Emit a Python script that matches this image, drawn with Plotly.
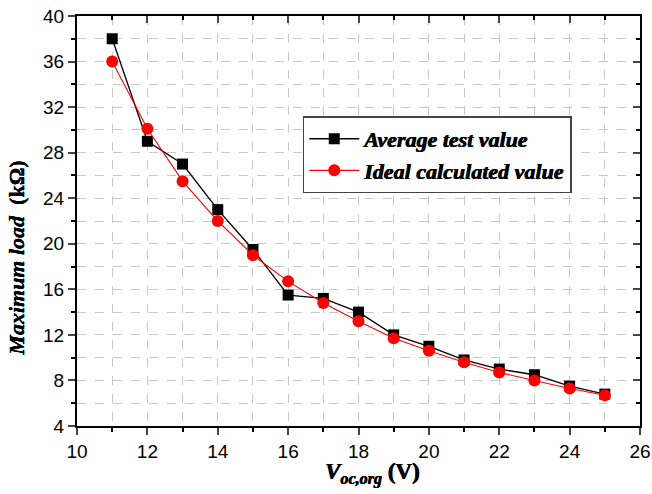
import plotly.graph_objects as go

voc = [11, 12, 13, 14, 15, 16, 17, 18, 19, 20, 21, 22, 23, 24, 25]
avg_test = [38.0, 29.0, 27.0, 23.0, 19.5, 15.5, 15.2, 14.0, 12.0, 11.0, 9.8, 9.0, 8.5, 7.5, 6.8]
ideal_calc = [36.0, 30.1, 25.5, 22.0, 19.0, 16.7, 14.8, 13.2, 11.7, 10.6, 9.6, 8.7, 8.0, 7.3, 6.7]

x_ticks = [10, 12, 14, 16, 18, 20, 22, 24, 26]
y_ticks = [4, 8, 12, 16, 20, 24, 28, 32, 36, 40]

serif = "Liberation Serif, Times New Roman, serif"
fig = go.Figure()
fig.add_trace(go.Scatter(
    x=voc, y=avg_test, mode="lines+markers", name="<b><i>Average test value</i></b>",
    line=dict(color="black", width=1.3),
    marker=dict(symbol="square", size=11, color="black"),
))
fig.add_trace(go.Scatter(
    x=voc, y=ideal_calc, mode="lines+markers", name="<b><i>Ideal calculated value</i></b>",
    line=dict(color="red", width=1.1),
    marker=dict(symbol="circle", size=12, color="red"),
))
# invisible trace to anchor mirror axes
fig.add_trace(go.Scatter(x=[10], y=[4], xaxis="x2", yaxis="y2", mode="markers",
                         marker=dict(opacity=0), showlegend=False, hoverinfo="skip"))

grid_col = "#c8c8c8"
tickfont = dict(family="Liberation Sans, Arial", size=19, color="black")
heavy = "0.5px 0 0 black, -0.2px 0 0 black"

fig.update_layout(
    width=652, height=494,
    margin=dict(l=77, r=12, t=16, b=68),
    paper_bgcolor="white", plot_bgcolor="white",
    font=dict(family="Liberation Sans, Arial", color="black"),
    xaxis=dict(
        range=[10, 26], tickvals=x_ticks, ticks="outside", ticklen=7, tickwidth=2,
        showline=True, linecolor="black", linewidth=2, automargin=False,
        showgrid=True, gridcolor=grid_col, griddash="dash", gridwidth=1,
        minor=dict(dtick=1, ticks="outside", ticklen=4, tickwidth=2, tickcolor="black",
                   showgrid=True, gridcolor=grid_col, griddash="dash", gridwidth=1),
        tickfont=tickfont, zeroline=False,
    ),
    yaxis=dict(
        range=[4, 40], tickvals=y_ticks, ticks="outside", ticklen=7, tickwidth=2,
        showline=True, linecolor="black", linewidth=2, automargin=False,
        showgrid=True, gridcolor=grid_col, griddash="dash", gridwidth=1,
        minor=dict(dtick=2, ticks="outside", ticklen=4, tickwidth=2, tickcolor="black",
                   showgrid=True, gridcolor=grid_col, griddash="dash", gridwidth=1),
        tickfont=tickfont, zeroline=False,
    ),
    xaxis2=dict(
        range=[10, 26], overlaying="x", side="top", anchor="y2", automargin=False,
        tickvals=x_ticks, ticks="inside", ticklen=7, tickwidth=2, showticklabels=False,
        showline=True, linecolor="black", linewidth=2, showgrid=False, zeroline=False,
        minor=dict(dtick=1, ticks="inside", ticklen=4, tickwidth=2, tickcolor="black", showgrid=False),
    ),
    yaxis2=dict(
        range=[4, 40], overlaying="y", side="right", anchor="x2", automargin=False,
        tickvals=y_ticks, ticks="inside", ticklen=7, tickwidth=2, showticklabels=False,
        showline=True, linecolor="black", linewidth=2, showgrid=False, zeroline=False,
        minor=dict(dtick=2, ticks="inside", ticklen=4, tickwidth=2, tickcolor="black", showgrid=False),
    ),
    legend=dict(
        x=0.401, y=0.755, xanchor="left", yanchor="top",
        bgcolor="white", bordercolor="#444444", borderwidth=1.5,
        font=dict(family=serif, size=22, color="black", weight="bold", style="italic",
                  shadow=heavy),
        itemwidth=50, tracegroupgap=0,
    ),
    showlegend=True,
    annotations=[
        dict(text="<b><i>V<sub>oc,org</sub></i> (V)</b>", xref="paper", yref="paper",
             x=0.524, y=-0.075, xanchor="center", yanchor="top", showarrow=False,
             font=dict(family=serif, size=23, color="black", weight="bold", shadow=heavy)),
        dict(text="<b><i>Maximum load</i>  (kΩ)</b>", xref="paper", yref="paper",
             x=-0.107, y=0.41, xanchor="center", yanchor="middle", showarrow=False,
             textangle=-90,
             font=dict(family=serif, size=22, color="black", weight="bold", shadow="0 0.5px 0 black, 0 -0.2px 0 black")),
    ],
)

fig.write_html("out.html")
